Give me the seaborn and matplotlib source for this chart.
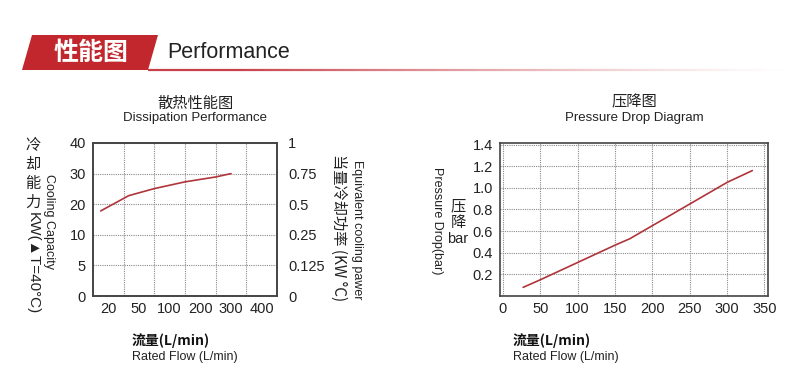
import numpy as np
import pandas as pd
import seaborn as sns
import matplotlib.pyplot as plt
from matplotlib.patches import Polygon
from matplotlib.collections import LineCollection

# ---- data ----
flow_ticks = [20, 50, 100, 200, 300, 400]
cap_ticks = [0, 5, 10, 20, 30, 40]
power_ticks = [0, 0.125, 0.25, 0.5, 0.75, 1]

cool_flow = [15, 40, 75, 100, 150, 250, 300]
cool_cap = [17.8, 22.8, 25.1, 26.2, 27.3, 28.9, 30.0]

dp_flow = [27, 50, 100, 150, 170, 200, 250, 300, 334]
dp_bar = [0.08, 0.15, 0.31, 0.47, 0.53, 0.65, 0.85, 1.05, 1.16]

dp_xticks = [0, 50, 100, 150, 200, 250, 300, 350]
dp_yticks = [0.2, 0.4, 0.6, 0.8, 1.0, 1.2, 1.4]

sns.set_theme(style='white')
plt.rcParams['font.family'] = ['Liberation Sans', 'Noto Sans CJK SC', 'DejaVu Sans']
CJK = ['Noto Sans CJK SC', 'DejaVu Sans']
RED = '#b0353b'
GRID = dict(color='#8a8a8a', linestyle=(0, (1, 1)), linewidth=0.8)

W, H = 800, 388
fig = plt.figure(figsize=(8, 3.88), dpi=100)


def px(x, y):
    return x / W, 1 - y / H


def box(x0, y0, x1, y1):
    return [x0 / W, 1 - y1 / H, (x1 - x0) / W, (y1 - y0) / H]


# ---- header ----
bg = fig.add_axes([0, 0, 1, 1])
bg.set_xlim(0, W)
bg.set_ylim(H, 0)
bg.axis('off')
bg.add_patch(Polygon([(22, 70), (32, 35), (158, 35), (148, 70)], closed=True,
                     color='#c1272d', lw=0))
xs = np.linspace(148, 790, 200)
segs = [[(xs[i], 69.5), (xs[i + 1], 69.5)] for i in range(len(xs) - 1)]
alphas = np.clip(1.15 - (xs[:-1] - 148) / 560, 0, 1) ** 1.3
cols = [(0.78, 0.25, 0.29, a) for a in alphas]
bg.add_collection(LineCollection(segs, colors=cols, linewidths=1.6))
bg.text(91, 53, '性能图', color='white', fontsize=18, fontweight='bold',
        family=CJK, ha='center', va='center')
bg.text(167, 53, 'Performance', color='#222222', fontsize=15.5,
        ha='left', va='center')

# ---- left chart: dissipation performance ----
fx_knots = [10, 20, 50, 100, 200, 300, 400, 450]
fx_pos = [-0.5, 0, 1, 2, 3, 4, 5, 5.5]
fy_pos = [0, 1, 2, 3, 4, 5]


def fx(v):
    return np.interp(v, fx_knots, fx_pos)


def gx(p):
    return np.interp(p, fx_pos, fx_knots)


def fy(v):
    return np.interp(v, cap_ticks, fy_pos)


def gy(p):
    return np.interp(p, fy_pos, cap_ticks)


pw_knots = [c / 40 for c in cap_ticks]


def fy2(v):
    return np.interp(v, pw_knots, fy_pos)


def gy2(p):
    return np.interp(p, fy_pos, pw_knots)


ax1 = fig.add_axes(box(93, 143, 277, 296))
ax1.set_xscale('function', functions=(fx, gx))
ax1.set_yscale('function', functions=(fy, gy))
df1 = pd.DataFrame({'flow': cool_flow, 'cap': cool_cap})
sns.lineplot(data=df1, x='flow', y='cap', ax=ax1, color=RED, lw=1.2)
ax1.set_xlim(10, 450)
ax1.set_ylim(0, 40)
ax1.set_xticks(flow_ticks)
ax1.set_xticklabels([str(t) for t in flow_ticks])
ax1.set_xticks([35, 75, 150, 250, 350], minor=True)
ax1.set_yticks(cap_ticks)
ax1.set_yticklabels([str(t) for t in cap_ticks])
ax1.set_yticks([], minor=True)
ax1.grid(False)
ax1.grid(True, which='minor', axis='x', **GRID)
ax1.grid(True, which='major', axis='y', **GRID)
ax1.set_xlabel('')
ax1.set_ylabel('')
ax1.tick_params(which='both', length=0, labelsize=10.5, colors='#222222')
ax1.tick_params(axis='y', pad=5)
ax1.tick_params(axis='x', pad=4)

ax2 = ax1.twinx()
ax2.set_yscale('function', functions=(fy2, gy2))
ax2.set_ylim(0, 1)
ax2.set_yticks(power_ticks)
ax2.set_yticklabels(['0', '0.125', '0.25', '0.5', '0.75', '1'])
ax2.set_yticks([], minor=True)
ax2.grid(False)
ax2.tick_params(which='both', length=0, labelsize=10.5, colors='#222222', pad=8)

for a in (ax1, ax2):
    for s in a.spines.values():
        s.set_color('#444444')
        s.set_linewidth(1.2)

fig.text(*px(195, 103), '散热性能图', fontsize=11, family=CJK,
         ha='center', va='center', color='#222222')
fig.text(*px(195, 118), 'Dissipation Performance', fontsize=9.5,
         ha='center', va='center', color='#222222')
fig.text(*px(33, 174), '冷\n却\n能\n力', fontsize=11, family=CJK,
         ha='center', va='center', linespacing=1.15, color='#222222')
fig.text(*px(33, 212), 'KW(▲T=40°C)', fontsize=11, rotation=-90,
         ha='center', va='top', color='#222222')
fig.text(*px(49, 222), 'Cooling Capacity', fontsize=9, rotation=-90,
         ha='center', va='center', color='#222222')
fig.text(*px(339, 228), '当量冷却功率 (KW °C)', fontsize=11, rotation=-90,
         family=['Noto Sans CJK SC', 'Liberation Sans'],
         ha='center', va='center', color='#222222')
fig.text(*px(357, 230), 'Equivalent cooling pawer', fontsize=9, rotation=-90,
         ha='center', va='center', color='#222222')

# ---- right chart: pressure drop ----
ax3 = fig.add_axes(box(500, 143, 768, 296))
df2 = pd.DataFrame({'flow': dp_flow, 'dp': dp_bar})
sns.lineplot(data=df2, x='flow', y='dp', ax=ax3, color=RED, lw=1.2)
ax3.set_xlim(-4, 355)
ax3.set_ylim(0, 1.415)
ax3.set_xticks(dp_xticks)
ax3.set_xticklabels([str(t) for t in dp_xticks])
ax3.set_yticks(dp_yticks)
ax3.set_yticklabels(['%.1f' % t for t in dp_yticks])
ax3.grid(True, **GRID)
ax3.set_xlabel('')
ax3.set_ylabel('')
ax3.tick_params(length=0, labelsize=10.5, colors='#222222')
ax3.tick_params(axis='y', pad=5)
ax3.tick_params(axis='x', pad=4)
for s in ax3.spines.values():
    s.set_color('#444444')
    s.set_linewidth(1.2)

fig.text(*px(634, 102), '压降图', fontsize=11, family=CJK,
         ha='center', va='center', color='#222222')
fig.text(*px(634, 118), 'Pressure Drop Diagram', fontsize=9.5,
         ha='center', va='center', color='#222222')
fig.text(*px(458, 214), '压\n降', fontsize=11, family=CJK,
         ha='center', va='center', linespacing=1.0, color='#222222')
fig.text(*px(458, 239), 'bar', fontsize=10.5,
         ha='center', va='center', color='#222222')
fig.text(*px(437, 221), 'Pressure Drop(bar)', fontsize=9, rotation=-90,
         ha='center', va='center', color='#222222')

# ---- x axis captions ----
for x0 in (132, 513):
    fig.text(*px(x0, 341), '流量(L/min)', fontsize=10, fontweight='bold',
             family=['Noto Sans CJK SC', 'Liberation Sans'],
             ha='left', va='center', color='#111111')
    fig.text(*px(x0, 357), 'Rated Flow (L/min)', fontsize=9,
             ha='left', va='center', color='#222222')

fig.savefig('out.png', dpi=100)
